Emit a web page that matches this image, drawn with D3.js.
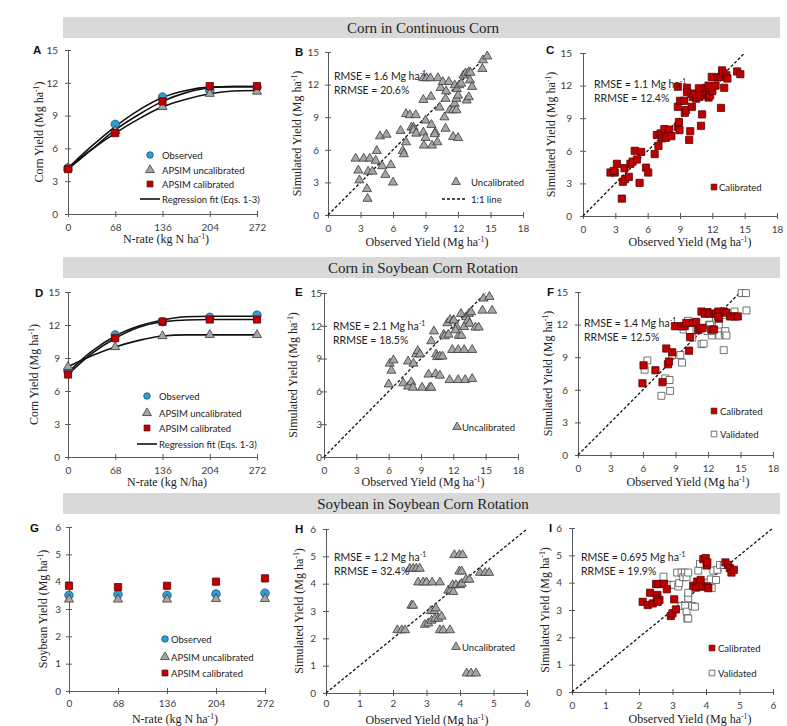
<!DOCTYPE html>
<html>
<head>
<meta charset="utf-8">
<script src="https://cdn.jsdelivr.net/npm/d3@7"></script>
<style>
  body { margin: 0; background: #fff; }
  svg { display: block; }
</style>
</head>
<body>
<div id="chart"></div>
<script>
// ---------- data ----------
var headerTitles = ["Corn in Continuous Corn", "Corn in Soybean Corn Rotation", "Soybean  in Soybean Corn Rotation"];

var nRate = [0, 68, 136, 204, 272];
var nRateFit = [0, 34, 68, 102, 136, 170, 204, 238, 272];
var yieldTicks = [0, 3, 6, 9, 12, 15];
var obsTicks = [0, 3, 6, 9, 12, 15, 18];
var soyTicks = [0, 1, 2, 3, 4, 5, 6];

// A - corn in continuous corn
var aObserved = [4.2, 8.2, 10.7, 11.3, 11.6];
var aUncal    = [4.2, 7.6, 9.8, 11.0, 11.2];
var aCal      = [4.1, 7.4, 10.3, 11.7, 11.7];
var aFitObs   = [4.2, 6.2, 8.0, 9.5, 10.65, 11.3, 11.6, 11.65, 11.65];
var aFitCal   = [4.1, 5.9, 7.7, 9.1, 10.3, 11.1, 11.55, 11.65, 11.65];
var aFitUncal = [4.2, 5.9, 7.4, 8.7, 9.8, 10.5, 11.0, 11.25, 11.3];

// D - corn in soybean corn rotation
var dObserved = [7.8, 11.1, 12.3, 12.7, 12.9];
var dUncal    = [8.2, 10.0, 11.0, 11.1, 11.1];
var dCal      = [7.5, 10.8, 12.3, 12.5, 12.5];
var dFitObs   = [7.7, 9.6, 11.0, 11.9, 12.45, 12.75, 12.8, 12.8, 12.8];
var dFitCal   = [7.5, 9.4, 10.8, 11.8, 12.3, 12.45, 12.5, 12.5, 12.5];
var dFitUncal = [8.2, 9.2, 10.0, 10.6, 11.0, 11.1, 11.1, 11.1, 11.1];

// G - soybean
var gObserved = [3.5, 3.53, 3.5, 3.55, 3.58];
var gUncal    = [3.35, 3.35, 3.35, 3.37, 3.37];
var gCal      = [3.85, 3.8, 3.85, 4.0, 4.12];

// B - uncalibrated [observed, simulated]
var bUncal = [[2.55,5.2],[3.3,5.2],[3.85,5.2],[4.4,5.0],[2.8,4.1],[2.9,3.2],[4.5,5.9],[4.8,7.25],[5.4,7.4],
  [3.7,4.0],[4.1,4.0],[5.0,4.5],[5.3,3.7],[5.8,4.6],[6.0,3.0],[3.6,2.4],[3.65,1.5],[6.7,7.75],[6.9,5.9],
  [7.0,5.6],[7.2,6.7],[7.2,9.3],[7.55,9.2],[8.1,9.2],[7.7,8.05],[7.9,8.05],[7.9,7.8],[8.15,7.5],[8.8,10.6],
  [8.8,7.6],[8.85,6.4],[9.0,7.1],[9.0,8.7],[8.8,12.6],[9.1,12.6],[9.45,12.6],[9.5,10.9],[9.55,8.3],[9.6,6.4],
  [9.9,7.6],[9.85,7.45],[10.1,6.7],[10.15,12.6],[10.3,9.9],[10.4,11.7],[10.6,12.25],[10.75,9.0],[10.85,7.95],
  [10.85,10.7],[11.15,12.25],[10.9,11.4],[11.25,9.65],[11.55,9.65],[11.55,7.2],[12.0,7.1],[11.7,10.25],
  [11.7,11.95],[11.9,11.6],[11.85,10.7],[12.0,11.0],[12.1,11.95],[11.85,9.65],[12.3,12.1],[12.5,12.85],
  [12.7,13.05],[13.0,13.15],[12.8,10.55],[13.0,10.85],[13.1,12.4],[13.3,11.8],[14.3,14.25],[14.25,13.45],
  [14.7,14.6],[13.15,13.1]];

// C - calibrated
var cCal = [[2.55,4.0],[2.95,4.0],[2.85,4.15],[3.15,4.8],[3.6,1.6],[3.7,3.15],[3.85,4.4],[3.9,3.4],[4.25,3.6],
  [4.4,4.8],[4.6,5.0],[4.8,6.0],[5.0,5.2],[5.25,3.05],[5.4,5.9],[5.85,4.45],[6.05,4.0],[6.65,5.7],[6.85,7.45],
  [7.0,6.45],[7.2,7.6],[7.35,7.15],[7.55,8.0],[7.7,7.2],[8.0,7.95],[8.2,7.35],[8.8,11.9],[8.8,10.05],[8.8,8.2],
  [8.9,8.65],[8.95,7.9],[9.0,10.6],[9.4,10.6],[9.45,9.5],[9.55,9.75],[9.65,11.8],[9.65,11.4],[9.85,7.0],
  [9.95,7.8],[10.1,10.05],[10.05,11.25],[10.2,10.95],[10.35,11.25],[10.5,10.8],[10.75,11.75],[10.8,10.95],
  [10.95,8.3],[11.05,9.35],[10.95,11.1],[11.3,11.3],[11.4,11.8],[11.5,11.2],[11.65,12.0],[11.65,10.9],
  [11.7,11.4],[11.8,11.1],[11.95,12.8],[12.0,11.5],[12.3,12.0],[12.5,12.75],[12.75,12.8],[12.8,9.95],
  [12.9,13.4],[13.0,13.15],[13.1,11.8],[13.3,12.95],[13.4,12.65],[14.3,13.3],[14.6,13.05]];

// E - uncalibrated
var eUncal = [[6.0,6.65],[6.1,8.55],[6.25,7.9],[6.45,8.85],[7.35,6.75],[7.8,8.75],[7.8,6.45],[8.1,6.85],
  [8.25,6.35],[8.3,8.55],[8.55,9.4],[8.7,9.7],[8.9,9.4],[9.1,6.35],[9.8,6.35],[9.95,6.35],[9.7,7.55],
  [9.95,10.6],[10.2,11.5],[10.35,7.6],[10.4,9.4],[10.5,9.15],[10.75,9.2],[11.0,9.2],[10.75,7.45],[11.1,11.2],
  [11.2,11.05],[11.45,12.25],[11.55,11.2],[11.7,12.55],[12.0,12.5],[11.9,9.8],[12.45,9.8],[13.0,9.8],
  [13.75,9.8],[11.65,7.05],[12.45,7.05],[13.1,7.05],[13.75,7.15],[12.3,11.9],[12.5,11.1],[12.75,11.1],
  [12.7,13.1],[13.0,11.9],[13.2,12.8],[13.45,13.1],[13.65,13.25],[13.35,12.5],[13.5,12.2],[14.05,11.85],
  [14.35,11.85],[14.7,13.4],[15.6,13.4],[14.8,14.5],[15.35,14.65],[12.05,12.5],[12.2,11.6]];

// F - calibrated and validated
var fCal = [[5.95,6.6],[6.05,8.25],[7.15,7.8],[7.8,6.7],[8.15,9.8],[8.3,8.35],[8.4,8.6],[8.7,9.45],[8.95,11.85],
  [9.55,11.85],[9.85,11.85],[10.0,12.15],[10.25,9.6],[10.35,10.85],[10.6,12.15],[10.9,12.25],[11.1,11.5],
  [11.25,11.65],[11.5,11.7],[11.4,13.2],[11.7,13.0],[11.95,13.15],[12.15,13.0],[12.3,11.55],[12.55,11.55],
  [12.6,13.0],[12.75,13.0],[12.95,13.2],[13.0,12.55],[13.45,13.2],[13.7,13.1],[14.05,12.75],[14.45,12.75],
  [14.75,12.75],[12.95,12.7]];
var fVal = [[6.15,7.85],[6.4,8.7],[8.05,7.05],[8.45,6.9],[7.7,5.45],[8.5,5.9],[8.7,9.2],[9.45,9.2],[9.6,8.5],
  [9.75,11.55],[10.15,12.35],[10.3,11.5],[10.55,10.8],[11.4,10.2],[11.6,10.25],[11.95,11.4],[12.1,12.0],
  [12.35,11.0],[12.45,11.4],[12.75,12.45],[13.0,12.0],[13.05,11.0],[13.55,11.15],[13.6,11.4],[13.7,11.0],
  [13.45,9.65],[13.45,13.2],[14.45,13.2],[15.1,14.9],[15.5,14.9],[15.55,13.3],[12.2,11.95],[13.4,12.9]];

// H - soybean uncalibrated
var hUncal = [[2.13,2.3],[2.26,2.3],[2.36,2.3],[2.5,4.55],[2.6,4.55],[2.7,4.55],[2.8,4.55],[2.55,3.2],[2.6,3.2],
  [2.75,4.05],[2.9,4.05],[3.0,4.05],[3.17,4.05],[3.4,4.05],[2.95,2.5],[3.05,2.55],[3.13,3.0],[3.23,3.0],
  [3.28,3.1],[3.15,2.65],[3.25,2.72],[3.35,2.72],[3.45,2.8],[3.4,2.3],[3.5,2.3],[3.7,2.3],[3.65,3.75],
  [3.72,3.75],[3.78,3.95],[3.88,3.95],[3.8,3.7],[4.0,3.95],[3.83,5.05],[3.98,5.05],[4.08,5.05],[3.98,4.45],
  [4.05,4.45],[4.05,4.0],[4.18,4.15],[4.28,4.15],[4.6,4.4],[4.75,4.4],[4.87,4.4],[4.2,0.72],[4.33,0.72],[4.48,0.72]];

// I - soybean calibrated and validated
var iCal = [[2.11,3.3],[2.26,3.18],[2.33,3.63],[2.41,3.24],[2.51,3.95],[2.58,3.95],[2.55,3.55],[2.53,3.43],
  [2.61,3.37],[2.56,3.3],[2.75,3.95],[2.83,3.76],[2.95,2.78],[3.0,2.88],[3.05,3.39],[3.1,3.02],[3.62,3.89],
  [3.7,3.82],[3.74,4.04],[3.8,3.86],[3.84,4.1],[3.9,3.86],[4.02,3.86],[4.07,3.8],[3.92,4.86],[3.99,4.9],
  [4.02,4.63],[4.04,4.74],[4.58,4.74],[4.66,4.65],[4.71,4.53],[4.76,4.37],[4.83,4.47]];
var iVal = [[2.73,4.22],[2.88,3.92],[3.03,3.92],[3.14,4.37],[3.17,3.86],[3.2,3.98],[3.27,4.37],[3.32,4.2],
  [3.37,4.37],[3.42,4.2],[3.47,4.37],[3.27,3.15],[3.38,3.15],[3.42,2.94],[3.44,2.69],[3.47,2.69],[3.47,3.43],
  [3.47,3.63],[3.59,3.15],[3.67,3.12],[3.77,4.44],[3.82,4.69],[4.07,4.0],[4.14,4.12],[4.17,3.8],[4.22,4.44],
  [4.3,4.1],[4.34,4.47],[4.42,4.65],[4.53,4.65]];

var rmseLabels  = { B: "1.6", C: "1.1", E: "2.1", F: "1.4", H: "1.2", I: "0.695" };
var rrmseLabels = { B: "20.6%", C: "12.4%", E: "18.5%", F: "12.5%", H: "32.4%", I: "19.9%" };

// ---------- styles ----------
var SANS = "Lato, 'Liberation Sans', sans-serif";
var SERIF = "'Liberation Serif', 'Times New Roman', serif";
var AXIS = "#595959";
var TXT = "#404040";
var sty = {
  tri:   { type: d3.symbolTriangle, size: 36, fill: "#a6a6a6", stroke: "#3a3a3a" },
  sq:    { type: d3.symbolSquare,   size: 52, fill: "#c00000", stroke: "#5a0000" },
  open:  { type: d3.symbolSquare,   size: 48, fill: "#ffffff", stroke: "#505050" },
  circ:  { type: d3.symbolCircle,   size: 56, fill: "#2aa0d6", stroke: "#1f4e79" }
};

var svg = d3.select("#chart").append("svg").attr("width", 787).attr("height", 726);

// header bands
var bandY = [17, 257, 493];
bandY.forEach(function(y, i) {
  svg.append("rect").attr("x", 63).attr("y", y).attr("width", 717).attr("height", 21).attr("fill", "#d9d9d9");
  svg.append("text").attr("x", 423).attr("y", y + 16).attr("text-anchor", "middle")
    .attr("font-family", SERIF).attr("font-size", 15).attr("fill", "#222").text(headerTitles[i]);
});

function sup(sel, before, after) {
  sel.append("tspan").text(before);
  sel.append("tspan").attr("dy", -4).attr("font-size", "0.65em").text("-1");
  sel.append("tspan").attr("dy", 4).text(after);
}

function mark(g, s, x, y, size) {
  g.append("path")
    .attr("d", d3.symbol().type(s.type).size(size || s.size)())
    .attr("transform", "translate(" + x + "," + y + ")")
    .attr("fill", s.fill).attr("stroke", s.stroke).attr("stroke-width", 0.8);
}

function panel(p) {
  var x = d3.scaleLinear().domain(p.xd).range([p.x0, p.x1]);
  var y = d3.scaleLinear().domain(p.yd).range([p.yb, p.yt]);
  var g = svg.append("g");

  var ya = g.append("g").attr("transform", "translate(" + p.x0 + ",0)")
    .call(d3.axisLeft(y).tickValues(p.yTicks).tickFormat(d3.format("d"))
      .tickSize(3).tickSizeOuter(0).tickPadding(p.yPad === undefined ? 6 : p.yPad));
  ya.selectAll(".tick line").attr("x1", 3);
  var xa = g.append("g").attr("transform", "translate(0," + p.yb + ")")
    .call(d3.axisBottom(x).tickValues(p.xTicks).tickFormat(d3.format("d"))
      .tickSize(3).tickSizeOuter(0).tickPadding(p.xPad || 7));
  xa.selectAll(".tick line").attr("y1", -3);
  [ya, xa].forEach(function(a) {
    a.select(".domain").attr("stroke", AXIS);
    a.selectAll(".tick line").attr("stroke", AXIS);
    a.selectAll("text").attr("font-family", SANS).attr("font-size", 10).attr("fill", TXT);
  });

  // panel letter
  g.append("text").attr("x", p.lx).attr("y", p.ly).attr("font-family", "'Liberation Sans', Arial, sans-serif")
    .attr("font-weight", "bold").attr("font-size", 11.5).attr("fill", "#111").text(p.letter);

  // titles
  var yt = g.append("text").attr("transform", "translate(" + p.ytx + "," + ((p.yt + p.yb) / 2) + ") rotate(-90)")
    .attr("text-anchor", "middle").attr("font-family", SERIF).attr("font-size", 12).attr("fill", "#222");
  sup(yt, p.yTitle, ")");
  var xt = g.append("text").attr("x", p.xtx).attr("y", p.xty).attr("text-anchor", "middle")
    .attr("font-family", SERIF).attr("font-size", 12).attr("fill", "#222");
  if (p.xTitleSup) sup(xt, p.xTitle, ")"); else xt.text(p.xTitle);

  return { g: g, x: x, y: y };
}

function scatterPanel(p) {
  var P = panel(p);
  var g = P.g, x = P.x, y = P.y;
  var lim = p.xd[1] === 6 ? 6 : 15;
  g.append("line").attr("x1", x(0)).attr("y1", y(0)).attr("x2", x(lim)).attr("y2", y(lim))
    .attr("stroke", "#111").attr("stroke-width", 1.3).attr("stroke-dasharray", "3,2");
  p.series.forEach(function(s) {
    s.data.forEach(function(d) { mark(g, s.style, x(d[0]), y(d[1])); });
  });
  var st = g.append("text").attr("x", p.sx).attr("y", p.sy).attr("font-family", SANS)
    .attr("font-size", 10.5).attr("fill", "#222");
  sup(st, "RMSE = " + rmseLabels[p.letter] + " Mg ha", "");
  g.append("text").attr("x", p.sx).attr("y", p.sy + 14).attr("font-family", SANS)
    .attr("font-size", 10.5).attr("fill", "#222").text("RRMSE = " + rrmseLabels[p.letter]);
  p.legend.forEach(function(l) {
    if (l.dash) {
      g.append("line").attr("x1", l.mx - 13).attr("x2", l.mx + 12).attr("y1", l.my).attr("y2", l.my)
        .attr("stroke", "#111").attr("stroke-width", 1.3).attr("stroke-dasharray", "3,2");
    } else {
      mark(g, l.style, l.mx, l.my, 32);
    }
    g.append("text").attr("x", l.tx).attr("y", l.my + 4).attr("font-family", SANS)
      .attr("font-size", 9.5).attr("fill", "#222").text(l.text);
  });
}

function ratePanel(p) {
  var P = panel(p);
  var g = P.g, x = P.x, y = P.y;
  var line = d3.line().x(function(d, i) { return x(nRateFit[i]); }).y(function(d) { return y(d); })
    .curve(d3.curveMonotoneX);
  (p.fits || []).forEach(function(f) {
    g.append("path").attr("d", line(f)).attr("fill", "none").attr("stroke", "#111").attr("stroke-width", 1.6);
  });
  p.series.forEach(function(s) {
    s.data.forEach(function(v, i) { mark(g, s.style, x(nRate[i]), y(v)); });
  });
  p.legend.forEach(function(l) {
    if (l.line) {
      g.append("line").attr("x1", l.mx - 9).attr("x2", l.mx + 11).attr("y1", l.my).attr("y2", l.my)
        .attr("stroke", "#111").attr("stroke-width", 1.6);
    } else {
      mark(g, l.style, l.mx, l.my, 34);
    }
    g.append("text").attr("x", p.ltx).attr("y", l.my + 4).attr("font-family", SANS)
      .attr("font-size", 9.5).attr("fill", "#222").text(l.text);
  });
}

var rateLegend = function(cx, ys, withLine) {
  var l = [
    { style: sty.circ, mx: cx, my: ys[0], text: "Observed" },
    { style: sty.tri, mx: cx, my: ys[1], text: "APSIM uncalibrated" },
    { style: sty.sq, mx: cx, my: ys[2], text: "APSIM calibrated" }
  ];
  if (withLine) l.push({ line: true, mx: cx - 1, my: ys[3], text: "Regression fit (Eqs. 1-3)" });
  return l;
};

// A
ratePanel({ letter: "A", lx: 33, ly: 54, x0: 68, x1: 257, yt: 50, yb: 214, xd: [0, 272], yd: [0, 15],
  xTicks: nRate, yTicks: yieldTicks, ytx: 43, yTitle: "Corn Yield (Mg ha", xtx: 166, xty: 243,
  xTitle: "N-rate (kg N ha", xTitleSup: true, yPad: 7,
  fits: [aFitUncal, aFitCal, aFitObs],
  series: [{ data: aObserved, style: sty.circ }, { data: aUncal, style: sty.tri }, { data: aCal, style: sty.sq }],
  legend: rateLegend(150, [155, 170, 184, 199], true), ltx: 162 });

// D
ratePanel({ letter: "D", lx: 35, ly: 297, x0: 68, x1: 257, yt: 292, yb: 457, xd: [0, 272], yd: [0, 15],
  xTicks: nRate, yTicks: yieldTicks, ytx: 38, yTitle: "Corn Yield (Mg ha", xtx: 167, xty: 486,
  xTitle: "N-rate (kg N/ha)", xTitleSup: false, yPad: 5,
  fits: [dFitUncal, dFitCal, dFitObs],
  series: [{ data: dObserved, style: sty.circ }, { data: dUncal, style: sty.tri }, { data: dCal, style: sty.sq }],
  legend: rateLegend(147, [396, 413, 428, 444], true), ltx: 159 });

// G
ratePanel({ letter: "G", lx: 30, ly: 532, x0: 69, x1: 265, yt: 527, yb: 691, xd: [0, 272], yd: [0, 6],
  xTicks: nRate, yTicks: soyTicks, ytx: 47, yTitle: "Soybean  Yield (Mg ha", xtx: 175, xty: 723,
  xTitle: "N-rate (kg N ha", xTitleSup: true, xPad: 6, yPad: 5,
  series: [{ data: gObserved, style: sty.circ }, { data: gUncal, style: sty.tri }, { data: gCal, style: sty.sq }],
  legend: rateLegend(165, [639, 657, 673], false), ltx: 171 });

// B
scatterPanel({ letter: "B", lx: 295, ly: 56, x0: 328, x1: 523, yt: 52, yb: 215, xd: [0, 18], yd: [0, 15],
  xTicks: obsTicks, yTicks: yieldTicks, ytx: 301, yTitle: "Simulated  Yield (Mg ha", xtx: 427, xty: 246,
  xTitle: "Observed Yield (Mg ha", xTitleSup: true, sx: 334, sy: 80, yPad: 6,
  series: [{ data: bUncal, style: sty.tri }],
  legend: [{ style: sty.tri, mx: 456, my: 182, tx: 471, text: "Uncalibrated" },
           { dash: true, mx: 455, my: 199, tx: 471, text: "1:1 line" }] });

// C
scatterPanel({ letter: "C", lx: 546, ly: 54, x0: 583, x1: 777, yt: 53, yb: 216, xd: [0, 18], yd: [0, 15],
  xTicks: obsTicks, yTicks: yieldTicks, ytx: 555, yTitle: "Simulated  Yield (Mg ha", xtx: 690, xty: 246,
  xTitle: "Observed Yield (Mg ha", xTitleSup: true, sx: 594, sy: 88, yPad: 8,
  series: [{ data: cCal, style: sty.sq }],
  legend: [{ style: sty.sq, mx: 714, my: 187, tx: 719, text: "Calibrated" }] });

// E
scatterPanel({ letter: "E", lx: 295, ly: 296, x0: 324, x1: 518, yt: 293, yb: 457, xd: [0, 18], yd: [0, 15],
  xTicks: obsTicks, yTicks: yieldTicks, ytx: 297, yTitle: "Simulated  Yield (Mg ha", xtx: 423, xty: 486,
  xTitle: "Observed Yield (Mg ha", xTitleSup: true, sx: 333, sy: 330, yPad: -1,
  series: [{ data: eUncal, style: sty.tri }],
  legend: [{ style: sty.tri, mx: 457, my: 427, tx: 462, text: "Uncalibrated" }] });

// F
scatterPanel({ letter: "F", lx: 547, ly: 296, x0: 578, x1: 773, yt: 292, yb: 455, xd: [0, 18], yd: [0, 15],
  xTicks: obsTicks, yTicks: yieldTicks, ytx: 552, yTitle: "Simulated  Yield (Mg ha", xtx: 688, xty: 486,
  xTitle: "Observed Yield (Mg ha", xTitleSup: true, sx: 584, sy: 327, yPad: 7,
  series: [{ data: fVal, style: sty.open }, { data: fCal, style: sty.sq }],
  legend: [{ style: sty.sq, mx: 714, my: 411, tx: 720, text: "Calibrated" },
           { style: sty.open, mx: 714, my: 434, tx: 720, text: "Validated" }] });

// H
scatterPanel({ letter: "H", lx: 295, ly: 533, x0: 326, x1: 527, yt: 529, yb: 693, xd: [0, 6], yd: [0, 6],
  xTicks: soyTicks, yTicks: soyTicks, ytx: 303, yTitle: "Simulated  Yield (Mg ha", xtx: 427, xty: 724,
  xTitle: "Observed Yield (Mg ha", xTitleSup: true, sx: 334, sy: 561, xPad: 4, yPad: 7,
  series: [{ data: hUncal, style: sty.tri }],
  legend: [{ style: sty.tri, mx: 456, my: 647, tx: 462, text: "Uncalibrated" }] });

// I
scatterPanel({ letter: "I", lx: 549, ly: 532, x0: 572, x1: 773, yt: 528, yb: 692, xd: [0, 6], yd: [0, 6],
  xTicks: soyTicks, yTicks: soyTicks, ytx: 549, yTitle: "Simulated  Yield (Mg ha", xtx: 690, xty: 723,
  xTitle: "Observed Yield (Mg ha", xTitleSup: true, sx: 581, sy: 561, yPad: 7,
  series: [{ data: iVal, style: sty.open }, { data: iCal, style: sty.sq }],
  legend: [{ style: sty.sq, mx: 712, my: 648, tx: 718, text: "Calibrated" },
           { style: sty.open, mx: 712, my: 673, tx: 718, text: "Validated" }] });
</script>
</body>
</html>
